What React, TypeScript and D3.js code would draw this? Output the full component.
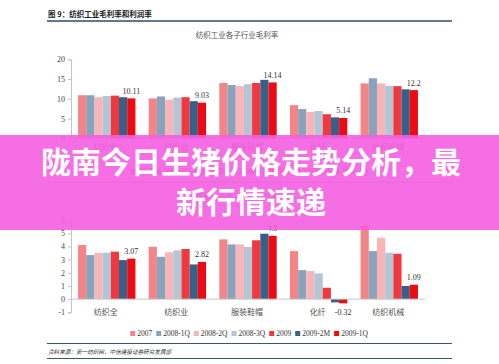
import React, { useEffect, useRef } from 'react';
import * as d3 from 'd3';

// categories / series
const categories = ['纺织全', '纺织业', '服装鞋帽', '化纤', '纺织机械'];
const seriesNames = ['2007', '2008-1Q', '2008-2Q', '2008-3Q', '2009', '2009-2M', '2009-1Q'];
const seriesColors = ['#f48587', '#8aa3bd', '#f7b5b8', '#b3c6d6', '#f0383f', '#376089', '#ee0a12'];

// gross margin (%), one row per category, one value per series
const grossMargin = [
    [10.9, 10.9, 10.4, 10.7, 10.8, 10.4, 10.11],
    [10.1, 10.6, 9.8, 10.3, 10.4, 9.4, 9.03],
    [14.0, 13.5, 13.2, 13.7, 14.0, 14.8, 14.14],
    [8.4, 7.4, 6.7, 6.9, 6.1, 5.3, 5.14],
    [13.9, 15.2, 13.9, 13.3, 13.2, 12.4, 12.2]
];
// profit margin (%)
const profitMargin = [
    [4.1, 3.34, 3.5, 3.52, 3.6, 2.96, 3.07],
    [3.97, 3.21, 3.55, 3.7, 3.8, 2.63, 2.82],
    [4.53, 4.15, 4.15, 3.95, 4.46, 4.96, 4.8],
    [3.64, 2.2, 2.13, 1.95, 0.86, -0.25, -0.32],
    [5.6, 3.64, 4.65, 3.52, 3.44, 1.0, 1.09]
];
const grossTicks = [0, 5, 10, 15, 20];
const profitTicks = [-1, 0, 1, 2, 3, 4, 5, 6];

const figureTitle = '图 9：纺织工业毛利率和利润率';
const grossTitle = '纺织工业各子行业毛利率';
const profitTitle = '纺织工业各子行业利润率';
const sourceText = '资料来源：第一纺织网，中信建投证券研究发展部';
const bannerLines = ['陇南今日生猪价格走势分析，最', '新行情速递'];

const width = 499;
const height = 364;
const FONT = '"Liberation Serif", "Noto Sans CJK SC", serif';
const CJK = '"Noto Sans CJK SC", sans-serif';

type Panel = {
    data: number[][];
    ticks: number[];
    top: number;
    bottom: number;
    title: string;
    titleY: number;
    catY: number;
    legendY: number;
};

function drawPanel(svg: d3.Selection<SVGSVGElement, unknown, null, undefined>, p: Panel) {
    const x0 = d3.scaleBand<string>().domain(categories).range([71, 425]).paddingInner(0.188).paddingOuter(0.1);
    const x1 = d3.scaleBand<string>().domain(seriesNames).range([0, x0.bandwidth()]);
    const y = d3
        .scaleLinear()
        .domain([d3.min(p.ticks)!, d3.max(p.ticks)!])
        .range([p.bottom, p.top]);

    // chart title
    svg.append('text')
        .attr('x', 237)
        .attr('y', p.titleY)
        .attr('text-anchor', 'middle')
        .attr('font-size', 7.5)
        .attr('fill', '#555')
        .attr('font-family', FONT)
        .text(p.title);

    // left axis
    svg.append('g')
        .attr('transform', 'translate(71,0)')
        .call(d3.axisLeft(y).tickValues(p.ticks).tickSize(3).tickPadding(3).tickFormat((d) => String(d)))
        .call((g) => g.selectAll('.domain, line').attr('stroke', '#c4c4c4'))
        .call((g) => g.selectAll('text').attr('font-size', 8).attr('font-family', FONT).attr('fill', '#444'));

    // bars
    const groups = svg.append('g')
        .selectAll('g')
        .data(p.data)
        .join('g')
        .attr('transform', (_, i) => `translate(${x0(categories[i])},0)`);
    groups.selectAll('rect')
        .data((d) => d)
        .join('rect')
        .attr('x', (_, j) => x1(seriesNames[j])!)
        .attr('y', (v) => Math.min(y(v), y(0)))
        .attr('width', x1.bandwidth())
        .attr('height', (v) => Math.abs(y(v) - y(0)))
        .attr('fill', (_, j) => seriesColors[j]);

    // baseline
    svg.append('line')
        .attr('x1', 71)
        .attr('x2', 425)
        .attr('y1', y(0))
        .attr('y2', y(0))
        .attr('stroke', '#c4c4c4');

    // value label on the last series
    const last = seriesNames.length - 1;
    svg.append('g')
        .selectAll('text')
        .data(p.data)
        .join('text')
        .attr('x', (_, i) => x0(categories[i])! + x1(seriesNames[last])! + x1.bandwidth() / 2)
        .attr('y', (d) => (d[last] >= 0 ? y(d[last]) - 4.5 : y(d[last]) + 12))
        .attr('text-anchor', 'middle')
        .attr('font-size', 8)
        .attr('font-family', FONT)
        .attr('fill', '#333')
        .text((d) => String(d[last]));

    // category labels
    svg.append('g')
        .selectAll('text')
        .data(categories)
        .join('text')
        .attr('x', (c) => x0(c)! + x0.bandwidth() / 2 - 1)
        .attr('y', p.catY)
        .attr('text-anchor', 'middle')
        .attr('font-size', 8)
        .attr('font-family', FONT)
        .attr('fill', '#555')
        .text((c) => c);

    // legend, laid out by measured text widths
    const legend = svg.append('g');
    let cursor = 0;
    seriesNames.forEach((name, j) => {
        const item = legend.append('g').attr('transform', `translate(${cursor},0)`);
        item.append('rect')
            .attr('x', 0)
            .attr('y', p.legendY - 5)
            .attr('width', 5)
            .attr('height', 5)
            .attr('fill', seriesColors[j]);
        const t = item.append('text')
            .attr('x', 7)
            .attr('y', p.legendY)
            .attr('font-size', 7.5)
            .attr('font-family', FONT)
            .attr('fill', '#333')
            .text(name);
        const w = (t.node() as SVGTextElement).getComputedTextLength();
        cursor += 7 + w + 4;
    });
    legend.attr('transform', `translate(${249 - (cursor - 4) / 2},0)`);
}

export default function App() {
    const ref = useRef<SVGSVGElement>(null);

    useEffect(() => {
        if (!ref.current) return;
        const svg = d3.select(ref.current);
        svg.selectAll('*').remove();

        svg.append('rect').attr('width', width).attr('height', height).attr('fill', '#fff');

        // figure header
        svg.append('text')
            .attr('x', 48)
            .attr('y', 17)
            .attr('font-size', 7.5)
            .attr('font-weight', 'bold')
            .attr('font-family', CJK)
            .attr('fill', '#222')
            .text(figureTitle);
        svg.append('line').attr('x1', 47).attr('x2', 452).attr('y1', 21).attr('y2', 21)
            .attr('stroke', '#2f4b63').attr('stroke-width', 1.5);

        drawPanel(svg, {
            data: grossMargin,
            ticks: grossTicks,
            top: 59.3,
            bottom: 138.3,
            title: grossTitle,
            titleY: 38,
            catY: 150,
            legendY: 174
        });

        svg.append('line').attr('x1', 47).attr('x2', 452).attr('y1', 182).attr('y2', 182)
            .attr('stroke', '#9a9a9a').attr('stroke-width', 0.8);

        drawPanel(svg, {
            data: profitMargin,
            ticks: profitTicks,
            top: 220,
            bottom: 312.3,
            title: profitTitle,
            titleY: 200,
            catY: 315,
            legendY: 336
        });

        // source block
        svg.append('line').attr('x1', 47).attr('x2', 452).attr('y1', 343.5).attr('y2', 343.5)
            .attr('stroke', '#3a5766').attr('stroke-width', 1.2);
        svg.append('text')
            .attr('x', 48)
            .attr('y', 354)
            .attr('font-size', 5.6)
            .attr('font-style', 'italic')
            .attr('font-family', CJK)
            .attr('fill', '#333')
            .text(sourceText);
        svg.append('line').attr('x1', 47).attr('x2', 452).attr('y1', 358.5).attr('y2', 358.5)
            .attr('stroke', '#3a5766').attr('stroke-width', 1.2);

        // overlay banner
        svg.append('rect')
            .attr('x', 0)
            .attr('y', 135)
            .attr('width', width)
            .attr('height', 95)
            .attr('fill', '#f55ee0')
            .attr('fill-opacity', 0.9);
        svg.append('g')
            .selectAll('text')
            .data(bannerLines)
            .join('text')
            .attr('x', 251)
            .attr('y', (_, i) => 173 + i * 40)
            .attr('text-anchor', 'middle')
            .attr('font-size', 30)
            .attr('font-weight', 'bold')
            .attr('font-family', CJK)
            .attr('fill', '#fff')
            .text((d) => d);
    }, []);

    return (
        <svg
            ref={ref}
            width={width}
            height={height}
            viewBox={`0 0 ${width} ${height}`}
            style={{ position: 'absolute', left: 0, top: 0, display: 'block' }}
        />
    );
}
